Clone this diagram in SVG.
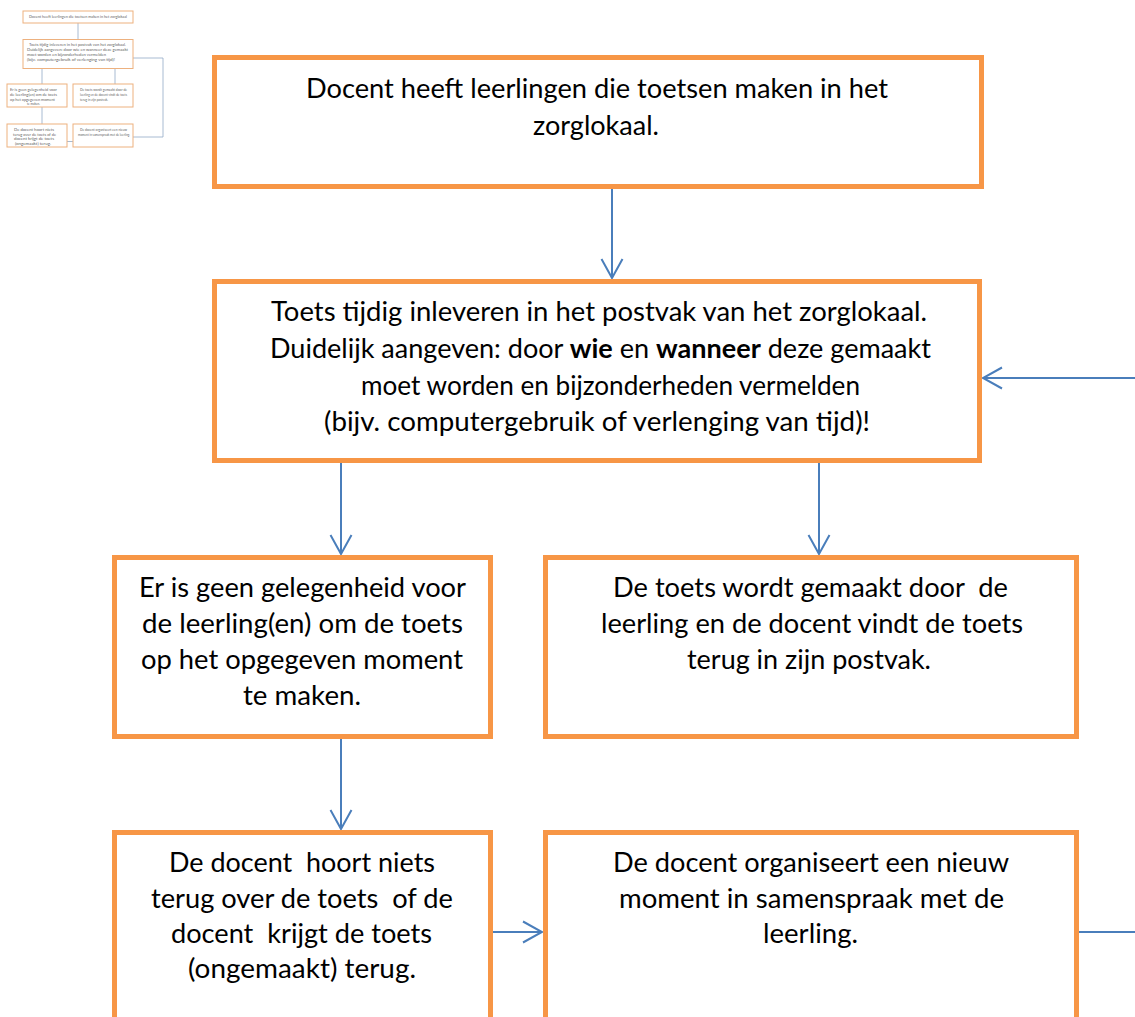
<svg xmlns="http://www.w3.org/2000/svg" width="1135" height="1017" viewBox="0 0 1135 1017">
<defs>
<style>
.box{fill:#ffffff;stroke:#F79646;stroke-width:5}
.t{font-family:Lato,"Open Sans","Liberation Sans",sans-serif;font-size:27px;fill:#000000}
.b{font-weight:bold}
.con{fill:none;stroke:#4A7EBB;stroke-width:2}
.tb{fill:#ffffff;stroke:#EDB17F;stroke-width:1}
.tt{font-family:Lato,"Liberation Sans",sans-serif;font-size:3.8px;fill:#5f5f5f}
.tc{fill:none;stroke:#93A9C6;stroke-width:0.8}
</style>
<marker id="arr" viewBox="-22 -12 24 24" refX="0" refY="0" markerWidth="24" markerHeight="24" markerUnits="userSpaceOnUse" orient="auto">
<path d="M-19,-10.5 L0,0 L-19,10.5" fill="none" stroke="#4A7EBB" stroke-width="2"/>
</marker>
</defs>
<rect x="0" y="0" width="1135" height="1017" fill="#ffffff"/>

<g id="thumbnail">
<g class="tc">
<path d="M78,23 V39"/>
<path d="M42,68 V84"/>
<path d="M115,68 V84"/>
<path d="M42,107 V124"/>
<path d="M67,141.5 H73"/>
<path d="M133,137 H163 V58 H133"/>
</g>
<rect class="tb" x="23" y="11" width="110" height="12"/>
<text class="tt" x="29" y="18" textLength="98" lengthAdjust="spacingAndGlyphs">Docent heeft leerlingen die toetsen maken in het zorglokaal</text>
<rect class="tb" x="23" y="39.5" width="110" height="29"/>
<text class="tt" x="29" y="45.5" textLength="97" lengthAdjust="spacingAndGlyphs">Toets tijdig inleveren in het postvak van het zorglokaal.</text>
<text class="tt" x="27" y="50.5" textLength="101" lengthAdjust="spacingAndGlyphs">Duidelijk aangeven: door wie en wanneer deze gemaakt</text>
<text class="tt" x="27" y="55.5" textLength="79" lengthAdjust="spacingAndGlyphs">moet worden en bijzonderheden vermelden</text>
<text class="tt" x="27" y="60.5" textLength="88" lengthAdjust="spacingAndGlyphs">(bijv. computergebruik of verlenging van tijd)!</text>
<rect class="tb" x="7" y="84" width="60" height="23"/>
<text class="tt" x="10" y="90.5" textLength="47" lengthAdjust="spacingAndGlyphs">Er is geen gelegenheid voor</text>
<text class="tt" x="10" y="95.5" textLength="47" lengthAdjust="spacingAndGlyphs">de leerling(en) om de toets</text>
<text class="tt" x="10" y="100.5" textLength="45" lengthAdjust="spacingAndGlyphs">op het opgegeven moment</text>
<text class="tt" x="27" y="105" textLength="13" lengthAdjust="spacingAndGlyphs">te maken.</text>
<rect class="tb" x="73" y="84" width="60" height="23"/>
<text class="tt" x="80" y="90.5" textLength="47" lengthAdjust="spacingAndGlyphs">De toets wordt gemaakt door de</text>
<text class="tt" x="80" y="95.5" textLength="47" lengthAdjust="spacingAndGlyphs">leerling en de docent vindt de toets</text>
<text class="tt" x="80" y="100.5" textLength="28" lengthAdjust="spacingAndGlyphs">terug in zijn postvak.</text>
<rect class="tb" x="7" y="124" width="60" height="23"/>
<text class="tt" x="14" y="131" textLength="40" lengthAdjust="spacingAndGlyphs">De docent hoort niets</text>
<text class="tt" x="13" y="135.5" textLength="43" lengthAdjust="spacingAndGlyphs">terug over de toets of de</text>
<text class="tt" x="14" y="140" textLength="40" lengthAdjust="spacingAndGlyphs">docent krijgt de toets</text>
<text class="tt" x="15" y="144.5" textLength="36" lengthAdjust="spacingAndGlyphs">(ongemaakt) terug.</text>
<rect class="tb" x="73" y="124" width="60" height="23"/>
<text class="tt" x="80" y="131" textLength="47" lengthAdjust="spacingAndGlyphs">De docent organiseert een nieuw</text>
<text class="tt" x="78" y="135.5" textLength="52" lengthAdjust="spacingAndGlyphs">moment in samenspraak met de leerling.</text>
</g>

<g id="connectors">
<path class="con" d="M612,189 V278" marker-end="url(#arr)"/>
<path class="con" d="M341,463 V554" marker-end="url(#arr)"/>
<path class="con" d="M819,463 V554" marker-end="url(#arr)"/>
<path class="con" d="M341,739 V829" marker-end="url(#arr)"/>
<path class="con" d="M493,932 H542" marker-end="url(#arr)"/>
<path class="con" d="M1077,932 H1135"/>
<path class="con" d="M1135,378 H983" marker-end="url(#arr)"/>
</g>

<g id="node1">
<rect class="box" x="214.5" y="57.5" width="767" height="129"/>
<text class="t" x="306" y="98" textLength="582" lengthAdjust="spacingAndGlyphs">Docent heeft leerlingen die toetsen maken in het</text>
<text class="t" x="533" y="135" textLength="126" lengthAdjust="spacingAndGlyphs">zorglokaal.</text>
</g>

<g id="node2">
<rect class="box" x="214.5" y="281.5" width="765" height="179"/>
<text class="t" x="271" y="321" textLength="656" lengthAdjust="spacingAndGlyphs">Toets tijdig inleveren in het postvak van het zorglokaal.</text>
<text class="t" x="270" y="358" textLength="661" lengthAdjust="spacingAndGlyphs">Duidelijk aangeven: door <tspan class="b">wie</tspan> en <tspan class="b">wanneer</tspan> deze gemaakt</text>
<text class="t" x="361" y="394.5" textLength="499" lengthAdjust="spacingAndGlyphs">moet worden en bijzonderheden vermelden</text>
<text class="t" x="324" y="431" textLength="546" lengthAdjust="spacingAndGlyphs">(bijv. computergebruik of verlenging van tijd)!</text>
</g>

<g id="node3">
<rect class="box" x="114.5" y="557.5" width="376" height="179"/>
<text class="t" x="139" y="597" textLength="327" lengthAdjust="spacingAndGlyphs">Er is geen gelegenheid voor</text>
<text class="t" x="142" y="633" textLength="321" lengthAdjust="spacingAndGlyphs">de leerling(en) om de toets</text>
<text class="t" x="141" y="669" textLength="322" lengthAdjust="spacingAndGlyphs">op het opgegeven moment</text>
<text class="t" x="243" y="705" textLength="118" lengthAdjust="spacingAndGlyphs">te maken.</text>
</g>

<g id="node4">
<rect class="box" x="545.5" y="557.5" width="531" height="179"/>
<text class="t" x="613" y="597" textLength="395" lengthAdjust="spacingAndGlyphs" xml:space="preserve">De toets wordt gemaakt door  de</text>
<text class="t" x="601" y="633" textLength="422" lengthAdjust="spacingAndGlyphs">leerling en de docent vindt de toets</text>
<text class="t" x="687" y="669" textLength="244" lengthAdjust="spacingAndGlyphs">terug in zijn postvak.</text>
</g>

<g id="node5">
<rect class="box" x="114.5" y="832.5" width="376" height="300"/>
<text class="t" x="169" y="872" textLength="266" lengthAdjust="spacingAndGlyphs" xml:space="preserve">De docent  hoort niets</text>
<text class="t" x="151" y="908" textLength="302" lengthAdjust="spacingAndGlyphs" xml:space="preserve">terug over de toets  of de</text>
<text class="t" x="171" y="943" textLength="261" lengthAdjust="spacingAndGlyphs" xml:space="preserve">docent  krijgt de toets</text>
<text class="t" x="188" y="978" textLength="228" lengthAdjust="spacingAndGlyphs">(ongemaakt) terug.</text>
</g>

<g id="node6">
<rect class="box" x="545.5" y="832.5" width="531" height="300"/>
<text class="t" x="613" y="872" textLength="396" lengthAdjust="spacingAndGlyphs">De docent organiseert een nieuw</text>
<text class="t" x="619" y="908" textLength="385" lengthAdjust="spacingAndGlyphs">moment in samenspraak met de</text>
<text class="t" x="763" y="943" textLength="95" lengthAdjust="spacingAndGlyphs">leerling.</text>
</g>
</svg>
